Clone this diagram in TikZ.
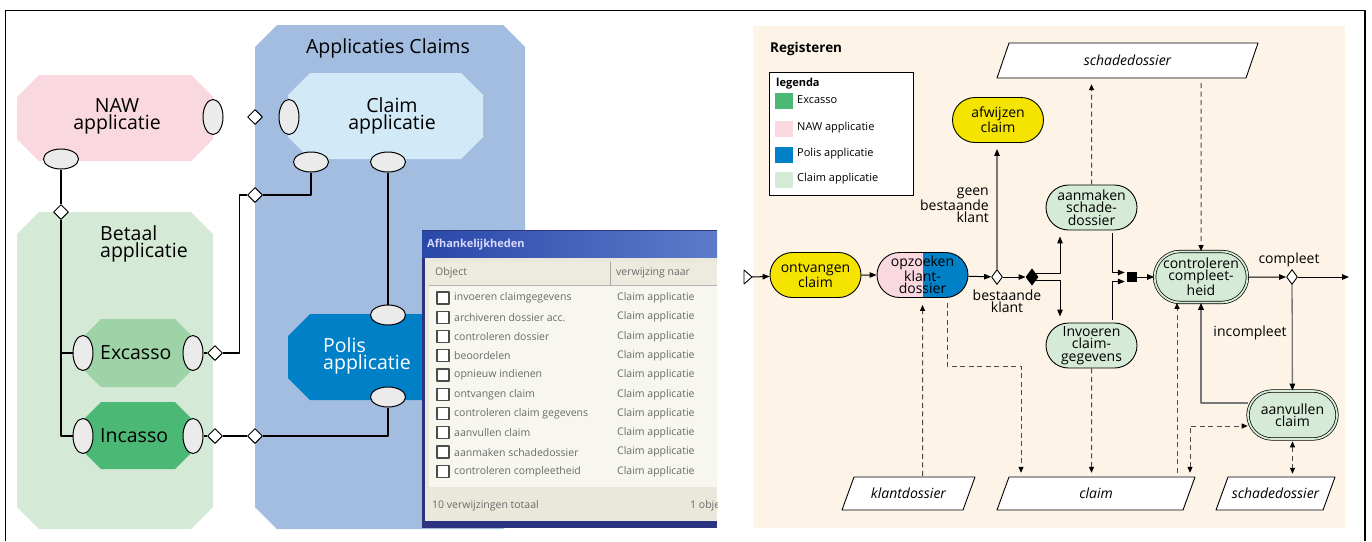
\documentclass[tikz,border=0pt]{standalone}
\usepackage{fontspec}
\setmainfont{Open Sans}
\usetikzlibrary{shapes.geometric,shapes.misc,arrows.meta}

\definecolor{nawpink}{HTML}{FAD8E0}
\definecolor{claimsblue}{HTML}{A3BDE0}
\definecolor{claimlight}{HTML}{D2E9F8}
\definecolor{betaalgreen}{HTML}{D4E9D6}
\definecolor{excassogreen}{HTML}{9ED3A8}
\definecolor{incassogreen}{HTML}{4CB876}
\definecolor{polisblue}{HTML}{0080C6}
\definecolor{portgray}{HTML}{EBEBEB}
\definecolor{panelbeige}{HTML}{FDF4E7}
\definecolor{taskyellow}{HTML}{F5E400}
\definecolor{taskgreen}{HTML}{D5EAD7}
\definecolor{flowgray}{HTML}{787878}
\definecolor{dashgray}{HTML}{4A4A4A}
\definecolor{winnavy}{HTML}{2C3480}
\definecolor{wintitleA}{HTML}{2A48A8}
\definecolor{wintitleB}{HTML}{5C7CCB}
\definecolor{winface}{HTML}{E9E8DA}
\definecolor{winlist}{HTML}{F7F7F0}
\definecolor{winhead}{HTML}{EDEBDF}
\definecolor{wintext}{HTML}{6A6A6A}

% filled box with cut-off corners: colour, x1, y1, x2, y2, cut
\newcommand\chamfer[6]{\fill[#1] ({#2+#6},#3) -- ({#4-#6},#3) -- (#4,{#3+#6}) -- (#4,{#5-#6})
  -- ({#4-#6},#5) -- ({#2+#6},#5) -- (#2,{#5-#6}) -- (#2,{#3+#6}) -- cycle;}
\newcommand\bigfs{\fontsize{19.5}{17}\selectfont}
\newcommand\taskfs{\fontsize{14}{12.3}\selectfont}
\newcommand\legfs{\fontsize{11}{12}\selectfont}
\newcommand\winfs{\fontsize{10.5}{12}\selectfont}

\tikzset{
  apptext/.style={font=\bigfs, align=center, inner sep=0pt},
  vport/.style={ellipse, draw, fill=portgray, line width=1pt, minimum width=20pt, minimum height=35pt, inner sep=0pt},
  hport/.style={ellipse, draw, fill=portgray, line width=1pt, minimum width=35pt, minimum height=20pt, inner sep=0pt},
  joint/.style={diamond, draw, fill=white, line width=1pt, minimum width=15pt, minimum height=15pt, inner sep=0pt},
  link/.style={line width=1.1pt},
  task/.style={rounded rectangle, draw, line width=0.9pt, minimum width=91pt, minimum height=45pt, inner sep=0pt, align=center, font=\taskfs},
  subtask/.style={task, fill=taskgreen},
  checktask/.style={subtask, line width=0.7pt, double=taskgreen, double distance=1.8pt},
  gate/.style={diamond, draw, fill=white, line width=0.9pt, minimum width=11pt, minimum height=15pt, inner sep=0pt},
  store/.style={rectangle, inner sep=0pt, font=\itshape\taskfs,
    path picture={\draw[line width=0.9pt, fill=white]
      ([xshift=13pt,yshift=-1pt]path picture bounding box.north west) --
      ([xshift=-1pt,yshift=-1pt]path picture bounding box.north east) --
      ([xshift=-13pt,yshift=1pt]path picture bounding box.south east) --
      ([xshift=1pt,yshift=1pt]path picture bounding box.south west) -- cycle;}},
  lbl/.style={font=\taskfs, align=center, inner sep=0pt},
  flow/.style={line width=1pt, -{Triangle[length=7pt,width=5.5pt]}},
  gflow/.style={line width=1.3pt, draw=flowgray, -{Triangle[length=7pt,width=5.5pt,color=black]}},
  dflow/.style={line width=1pt, draw=dashgray, dash pattern=on 5pt off 3.5pt, -{Triangle[length=6pt,width=5pt,color=black]}},
  dflowtwo/.style={dflow, {Triangle[length=6pt,width=5pt,color=black]}-{Triangle[length=6pt,width=5pt,color=black]}},
  wintxt/.style={font=\winfs, text=wintext, anchor=west, inner sep=0pt},
}

\begin{document}
\begin{tikzpicture}[x=1pt, y=-1pt, line join=round]
\useasboundingbox (0,0) rectangle (1372,541);

% outer frame
\draw[line width=1.6pt] (5.5,541) -- (5.5,10.5) -- (1365,10.5) -- (1365,541);

% ---------------- application landscape ----------------
\chamfer{betaalgreen}{17}{212}{213}{529}{22}
\chamfer{nawpink}{17}{75}{213}{161}{22}
\chamfer{claimsblue}{255}{25}{525}{529}{22}
\chamfer{claimlight}{288}{73}{483}{159}{22}
\chamfer{polisblue}{288}{314}{520}{400}{22}
\chamfer{excassogreen}{83}{319}{193}{387}{18}
\chamfer{incassogreen}{83}{402}{193}{469}{18}

\node[apptext] (t-claims) at (388,48) {Applicaties Claims};
\node[apptext] (t-naw) at (117,116) {NAW\\applicatie};
\node[apptext] (t-claim) at (392,116) {Claim\\applicatie};
\node[apptext, align=left, anchor=west] (t-betaal) at (100,244) {Betaal\\applicatie};
\node[apptext, anchor=west] (t-exc) at (100,353) {Excasso};
\node[apptext, anchor=west] (t-inc) at (100,436) {Incasso};
\node[apptext, align=left, anchor=west, text=white] (t-polis) at (323,356) {Polis\\applicatie};

% interface ports
\node[vport] (naw-r) at (213,117) {};
\node[hport] (naw-b) at (61,159) {};
\node[vport] (cl-l) at (289,117) {};
\node[hport] (cl-b1) at (311,162) {};
\node[hport] (cl-b2) at (388,162) {};
\node[hport] (pol-t) at (388,315) {};
\node[hport] (pol-b) at (388,397) {};
\node[vport] (exc-l) at (83,353) {};
\node[vport] (exc-r) at (193,353) {};
\node[vport] (inc-l) at (83,436) {};
\node[vport] (inc-r) at (193,436) {};

% connection points
\node[joint] (j-naw) at (255,117) {};
\node[joint] (j-claim) at (255,195) {};
\node[joint] (j-betaal) at (61,212) {};
\node[joint] (j-exc) at (215,353) {};
\node[joint] (j-inc) at (215,436) {};
\node[joint] (j-pol) at (255,436) {};

\draw[link] (naw-b.south) -- (j-betaal.north);
\draw[link] (j-betaal.south) |- (inc-l.west);
\draw[link] (exc-l.west) -- (exc-l.west -| j-betaal.south);
\draw[link] (cl-b1.south) |- (j-claim.east);
\draw[link] (j-claim.west) -- ++(-7.5,0) |- (j-exc.east);
\draw[link] (exc-r.east) -- (j-exc.west);
\draw[link] (inc-r.east) -- (j-inc.west);
\draw[link] (j-inc.east) -- (j-pol.west);
\draw[link] (j-pol.east) -| (pol-b.south);
\draw[link] (cl-b2.south) -- (pol-t.north);

% dependency window
\begin{scope}
  \clip (422,230) rectangle (717,528);
  \fill[winnavy] (422,230) rectangle (717,528);
  \shade[left color=wintitleA, right color=wintitleB] (422,231) rectangle (717,257);
  \node[font=\bfseries\fontsize{11}{12}\selectfont, text=white!85!blue, anchor=west, inner sep=0pt] (win-title) at (427,245) {Afhankelijkheden};
  \fill[winface] (425,258) rectangle (717,521);
  \fill[winlist] (429,262) rectangle (717,487);
  \fill[winhead] (429,262) rectangle (717,285);
  \draw[gray!60, line width=0.8pt] (429,285.5) -- (717,285.5);
  \draw[gray!70, line width=1pt] (610,262) -- (610,285);
  \node[wintxt] (win-h1) at (435,273) {Object};
  \node[wintxt] (win-h2) at (616,273) {verwijzing naar};
  \foreach \txt [count=\i from 0] in {invoeren claimgegevens, archiveren dossier acc., controleren dossier,
      beoordelen, opnieuw indienen, ontvangen claim, controleren claim gegevens, aanvullen claim,
      aanmaken schadedossier, controleren compleetheid} {
    \pgfmathsetmacro\yy{298+19.26*\i}
    \node[draw=black!70, line width=1.2pt, fill=white, minimum size=12pt, inner sep=0pt] (chk-\i) at (443,\yy) {};
    \node[wintxt] (obj-\i) at (454,\yy) {\txt};
    \node[wintxt] (ref-\i) at (617,\yy) {Claim applicatie};
  }
  \node[wintxt] (win-foot) at (432,506) {10 verwijzingen totaal};
  \node[wintxt] (win-sel) at (690,506) {1 object};
\end{scope}

% ---------------- process Registeren ----------------
\fill[panelbeige] (753,26) rectangle (1345,528);
\node[font=\bfseries\fontsize{13.5}{14}\selectfont, anchor=west, inner sep=0pt] (title) at (770,49) {Registeren};

% legend
\node[draw, line width=1pt, fill=white, minimum width=144pt, minimum height=123pt, inner sep=0pt] (legend) at (841,133.5) {};
\node[anchor=west, font=\bfseries\legfs, inner sep=0pt] (leg-title) at (776,84) {legenda};
\foreach \c/\t/\y [count=\k] in {incassogreen/Excasso/101, nawpink/NAW applicatie/129,
    polisblue/Polis applicatie/155, taskgreen/Claim applicatie/180} {
  \node[fill=\c, minimum width=18pt, minimum height=16pt, inner sep=0pt] (sw-\k) at (784,\y) {};
  \node[anchor=west, font=\legfs, inner sep=0pt] (sl-\k) at (797,{\y-1}) {\t};
}

% data stores
\node[store, minimum width=263pt, minimum height=37pt] (sdTop) at (1127.5,60.5) {schadedossier};
\node[store, minimum width=135pt, minimum height=35pt] (klant) at (908.5,493.5) {klantdossier};
\node[store, minimum width=200pt, minimum height=35pt] (claimdoc) at (1096,493.5) {claim};
\node[store, minimum width=121pt, minimum height=35pt] (sdBot) at (1275.5,493.5) {schadedossier};

% activities
\draw[line width=0.9pt, fill=white] (744,270) -- (752,277) -- (744,284) -- cycle;
\coordinate (start) at (752,277);
\node[task, fill=taskyellow] (ontv) at (815.5,275) {ontvangen\\claim};
\node[task, fill=nawpink, path picture={\fill[polisblue] (path picture bounding box.north) rectangle (path picture bounding box.south east);}] (opz) at (922.5,275) {opzoeken\\klant-\\dossier};
\node[gate] (d1) at (997,277) {};
\node[task, fill=taskyellow] (afw) at (998,120) {afwijzen\\claim};
\node[gate, fill=black, minimum width=12pt, minimum height=16pt] (d2) at (1032,277) {};
\node[subtask] (aan) at (1091.5,207.5) {aanmaken\\schade-\\dossier};
\node[subtask] (inv) at (1091.5,345.5) {Invoeren\\claim-\\gegevens};
\node[fill=black, minimum size=10pt, inner sep=0pt] (sq) at (1132,277) {};
\node[checktask, minimum width=90pt, minimum height=51pt] (ctl) at (1201,277) {controleren\\compleet-\\heid};
\node[gate] (d3) at (1292,277) {};
\coordinate (endpt) at (1349,277);
\node[checktask, minimum width=89pt, minimum height=48pt] (aanv) at (1292.5,415) {aanvullen\\claim};

% labels
\node[lbl, align=right, anchor=east] (l-geen) at (989,205) {geen\\bestaande\\klant};
\node[lbl] (l-best) at (1007,301) {bestaande\\klant};
\node[lbl] (l-comp) at (1289,260) {compleet};
\node[lbl] (l-incomp) at (1250,333) {incompleet};

% helper positions for connectors
\coordinate (xfork) at (1060,0);
\coordinate (xjoin) at (1112,0);
\coordinate (xopz) at (947,0);
\coordinate (bendB) at (1021,366);
\coordinate (xrev) at (1177,0);
\coordinate (xsup) at (1190,0);
\coordinate (supY) at (0,426);

% control flow
\draw[flow] (start) -- (ontv);
\draw[flow] (ontv) -- (opz);
\draw[flow] (opz) -- (d1);
\draw[flow] (d1) -- (d2);
\draw[gflow, shorten >=6pt] (d1.north) -- (d1.north |- afw.south);
\draw[flow, shorten >=6pt] ([xshift=-2.5pt,yshift=3.5pt]d2.east) -| (xfork |- aan.south);
\draw[flow, shorten >=6pt] ([xshift=-2.5pt,yshift=-3.5pt]d2.east) -| (xfork |- inv.north);
\draw[flow, shorten >=2pt] ([yshift=-3pt]xjoin |- aan.south) |- ([yshift=4.5pt]sq.west);
\draw[flow, shorten >=2pt] ([yshift=3pt]xjoin |- inv.north) |- ([yshift=-4.5pt]sq.west);
\draw[flow] (sq) -- (ctl);
\draw[flow] (ctl) -- (d3);
\draw[flow] (d3) -- (endpt);
\draw[gflow] (d3) -- (aanv);
\draw[gflow] ([yshift=12pt]aanv.west) -| (ctl.south);

% data flow
\draw[dflow, shorten >=5pt] (aan) -- (aan |- sdTop.south);
\draw[dflow] ([yshift=-4pt]ctl |- sdTop.south) -- (ctl);
\draw[dflow, shorten >=7pt] (opz |- klant.north) -- (opz);
\draw[dflow, shorten >=3pt] ([yshift=-5pt]xopz |- opz.south) |- (bendB) -- (bendB |- claimdoc.north);
\draw[dflow, shorten >=3pt] (inv) -- (inv |- claimdoc.north);
\draw[dflow] ([yshift=3pt]xrev |- claimdoc.north) -- (xrev |- ctl.south);
\draw[dflowtwo, shorten <=3pt] (xsup |- claimdoc.north) |- (supY -| aanv.west);
\draw[dflowtwo, shorten <=2pt, shorten >=2pt] (aanv.south) -- (aanv.south |- sdBot.north);
\end{tikzpicture}
\end{document}
